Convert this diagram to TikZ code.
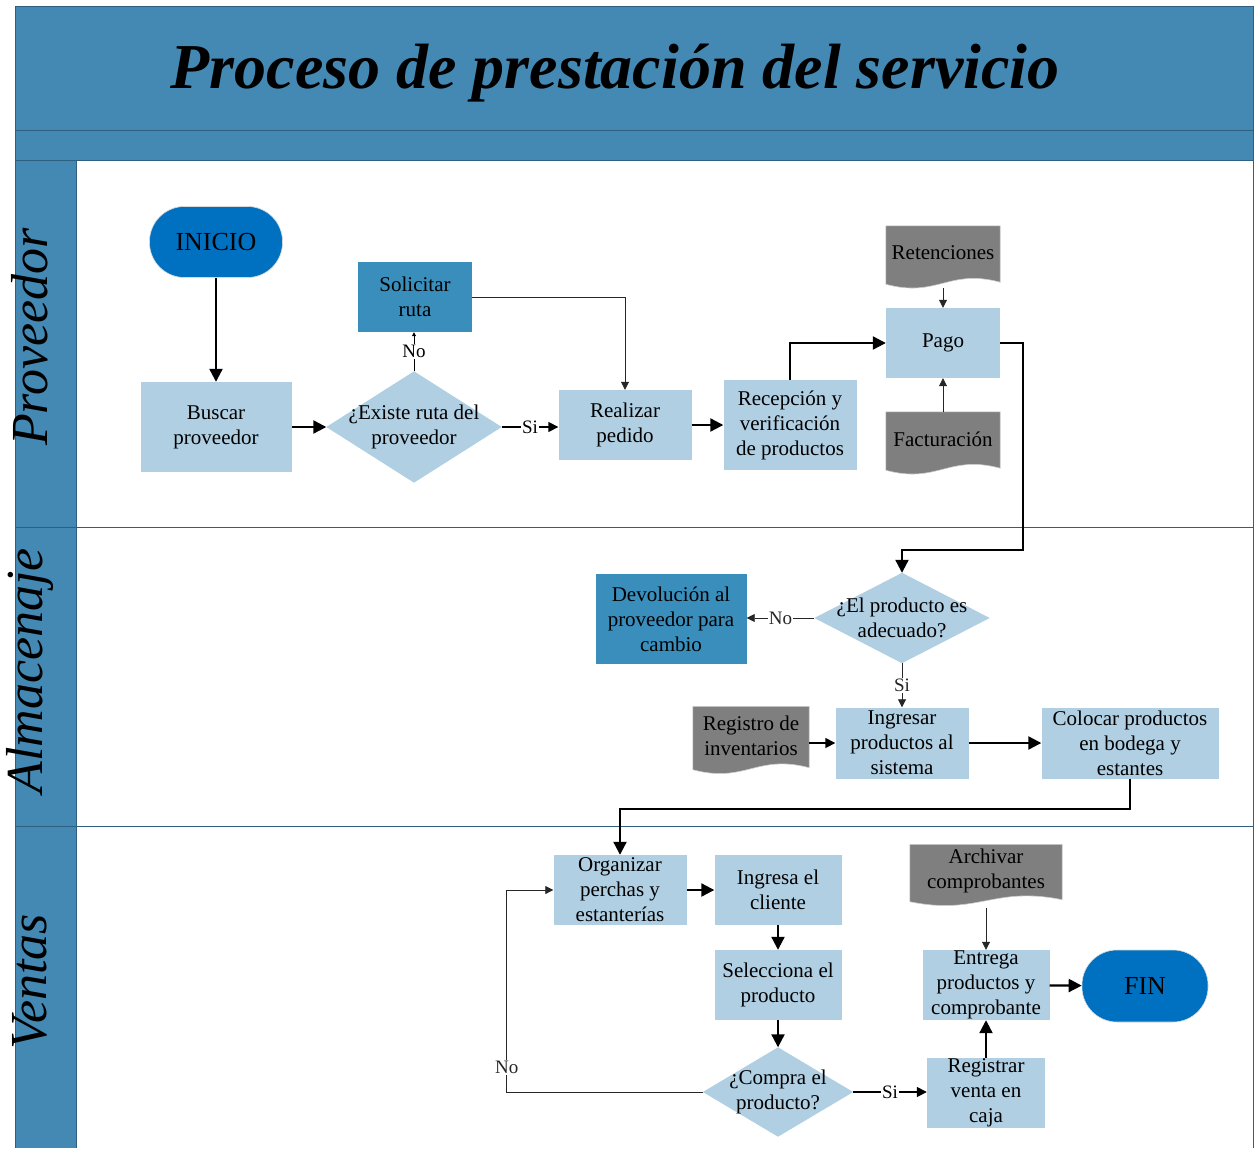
\documentclass[tikz,border=0pt]{standalone}
\usepackage{fontspec}
\setmainfont{Liberation Serif}
\usetikzlibrary{arrows.meta,calc,backgrounds}
\definecolor{bandblue}{HTML}{4389B4}
\definecolor{bandline}{HTML}{2F5F80}
\definecolor{boxblue}{HTML}{B0CFE2}
\definecolor{darkbox}{HTML}{3A8EBC}
\definecolor{termblue}{HTML}{0070C0}
\definecolor{docgray}{HTML}{7F7F7F}
\tikzstyle{arrow} = [line width=2.2pt,-{Triangle[length=13pt,width=13pt]}]
\tikzstyle{medarrow} = [line width=1.6pt,-{Triangle[length=10pt,width=10pt]}]
\tikzstyle{thinarrow} = [line width=0.8pt,black!85,-{Triangle[length=8pt,width=8pt]}]

\begin{document}
\begin{tikzpicture}[x=1pt, y=-1pt, every node/.style={align=center},
    box/.style={fill=boxblue, inner sep=0pt, font=\fontsize{21}{25}\selectfont},
    darkstep/.style={fill=darkbox, inner sep=0pt, font=\fontsize{21}{25}\selectfont},
    decision/.style={inner sep=0pt, font=\fontsize{21}{25}\selectfont},
    docu/.style={inner sep=0pt, font=\fontsize{21}{25}\selectfont},
    term/.style={fill=termblue, draw=white!70!gray, line width=0.6pt, rounded corners=35pt, font=\fontsize{26}{28}\selectfont},
    lbl/.style={fill=white, inner sep=1pt, font=\fontsize{19}{20}\selectfont},
    lanelabel/.style={rotate=90, inner sep=0pt, font=\fontsize{52}{60}\selectfont\itshape}]

    \useasboundingbox (0,0) rectangle (1255,1148);

    % Marco y carriles
    \fill[bandblue] (15,7) rectangle (1253,160);
    \fill[bandblue] (15,160) rectangle (76,1148);
    \draw[bandline, line width=1pt] (15,1148) -- (15,7) -- (1253,7) -- (1253,1148);
    \draw[bandline, line width=1pt] (15,130) -- (1253,130);
    \draw[bandline, line width=1pt] (15,160) -- (1253,160);
    \draw[bandline, line width=1pt] (76,160) -- (76,1148);
    \draw[bandline, line width=1pt] (15,527) -- (1253,527);
    \draw[bandline, line width=1pt] (15,826) -- (1253,826);

    \node[font=\fontsize{64}{70}\selectfont\bfseries\itshape] (titulo) at (615,73) {Proceso de prestación del servicio};
    \node[lanelabel] (lprov) at (30,337) {Proveedor};
    \node[lanelabel] (lalma) at (30,671) {Almacenaje};
    \node[lanelabel] (lvent) at (30,982) {Ventas};

    % Proveedor
    \node[term, minimum width=133pt, minimum height=71pt] (inicio) at (216,242) {INICIO};
    \node[box, minimum width=151pt, minimum height=90pt] (buscar) at (216,427) {Buscar\\proveedor};
    \node[decision, minimum width=175pt, minimum height=111pt] (ruta) at (414,427) {¿Existe ruta del\\proveedor};
    \node[darkstep, minimum width=114pt, minimum height=70pt] (solicitar) at (415,297) {Solicitar\\ruta};
    \node[box, minimum width=133pt, minimum height=70pt] (pedido) at (625,425) {Realizar\\pedido};
    \node[box, minimum width=133pt, minimum height=90pt] (recepcion) at (790,425) {Recepción y\\verificación\\de productos};
    \node[box, minimum width=114pt, minimum height=70pt] (pago) at (943,343) {Pago};
    \node[docu, minimum width=114pt, minimum height=54pt] (reten) at (943,253) {Retenciones};
    \node[docu, minimum width=114pt, minimum height=54pt] (factu) at (943,439) {Facturación};

    % Almacenaje
    \node[decision, minimum width=175pt, minimum height=90pt] (adecuado) at (902,618) {¿El producto es\\adecuado?};
    \node[darkstep, minimum width=151pt, minimum height=90pt] (devol) at (671,619) {Devolución al\\proveedor para\\cambio};
    \node[box, minimum width=133pt, minimum height=71pt] (ingresar) at (902,743) {Ingresar\\productos al\\sistema};
    \node[docu, minimum width=116pt, minimum height=59pt] (registro) at (751,736) {Registro de\\inventarios};
    \node[box, minimum width=177pt, minimum height=71pt] (colocar) at (1130,743) {Colocar productos\\en bodega y\\estantes};

    % Ventas
    \node[box, minimum width=133pt, minimum height=70pt] (organizar) at (620,890) {Organizar\\perchas y\\estanterías};
    \node[box, minimum width=127pt, minimum height=70pt] (cliente) at (778,890) {Ingresa el\\cliente};
    \node[box, minimum width=127pt, minimum height=70pt] (selecciona) at (778,985) {Selecciona el\\producto};
    \node[decision, minimum width=150pt, minimum height=89pt] (compra) at (778,1092) {¿Compra el\\producto?};
    \node[box, minimum width=118pt, minimum height=70pt] (registrar) at (986,1093) {Registrar\\venta en\\caja};
    \node[box, minimum width=127pt, minimum height=70pt] (entrega) at (986,985) {Entrega\\productos y\\comprobante};
    \node[docu, minimum width=152pt, minimum height=53pt] (archivar) at (986,871) {Archivar\\comprobantes};
    \node[term, minimum width=126pt, minimum height=72pt] (fin) at (1145,986) {FIN};

    % Formas de decision y documentos
    \begin{scope}[on background layer]
        \foreach \D in {ruta,adecuado,compra} {
            \fill[boxblue] (\D.north) -- (\D.east) -- (\D.south) -- (\D.west) -- cycle;
        }
        \foreach \D in {reten,factu,registro,archivar} {
            \filldraw[fill=docgray, draw=white!80!black, line width=0.6pt] (\D.north west) -- (\D.north east) -- ($(\D.south east)+(0,2)$)
                .. controls ($(\D.south west)!0.55!(\D.south east)+(0,-12)$) and ($(\D.south west)!0.45!(\D.south east)+(0,18)$) .. ($(\D.south west)+(0,4)$) -- cycle;
        }
    \end{scope}

    % Conectores
    \draw[arrow] (inicio) -- (buscar);
    \draw[arrow] (buscar) -- (ruta);
    \draw[line width=0.8pt, -{Triangle[length=4pt,width=4pt]}] (ruta.north) -- node[lbl]{No} (ruta.north |- solicitar.south);
    \draw[medarrow] (ruta.east) -- node[lbl]{Si} (ruta.east -| pedido.west);
    \draw[thinarrow] (solicitar.east) -| (pedido.north);
    \draw[arrow] (pedido) -- (recepcion);
    \draw[arrow] (recepcion.north) |- (pago.west);
    \draw[thinarrow] ([yshift=-8pt]reten.south) -- (pago);
    \draw[thinarrow] (factu) -- (pago);
    \coordinate (giro) at (902,550);
    \draw[arrow] (pago.east) -- ++(23,0) |- (giro) -- (adecuado.north);
    \draw[thinarrow] (adecuado.west) -- node[lbl]{No} (adecuado.west -| devol.east);
    \draw[thinarrow] (adecuado) -- node[lbl]{Si} (ingresar);
    \draw[medarrow] (registro.east |- ingresar.west) -- (ingresar.west);
    \draw[arrow] (ingresar) -- (colocar);
    \draw[arrow] (colocar.south) -- ++(0,30) -| (organizar.north);
    \draw[arrow] (organizar) -- (cliente);
    \draw[arrow] (cliente) -- (selecciona);
    \draw[arrow] (selecciona) -- (compra);
    \draw[thinarrow] (compra.west) -- ++(-196,0) |- node[lbl, pos=0.06]{No} (organizar.west);
    \draw[medarrow] (compra.east) -- node[lbl]{Si} (compra.east -| registrar.west);
    \draw[arrow] (registrar) -- (entrega);
    \draw[thinarrow] ([yshift=-10pt]archivar.south) -- (entrega);
    \draw[arrow] (entrega) -- (fin);

\end{tikzpicture}
\end{document}
